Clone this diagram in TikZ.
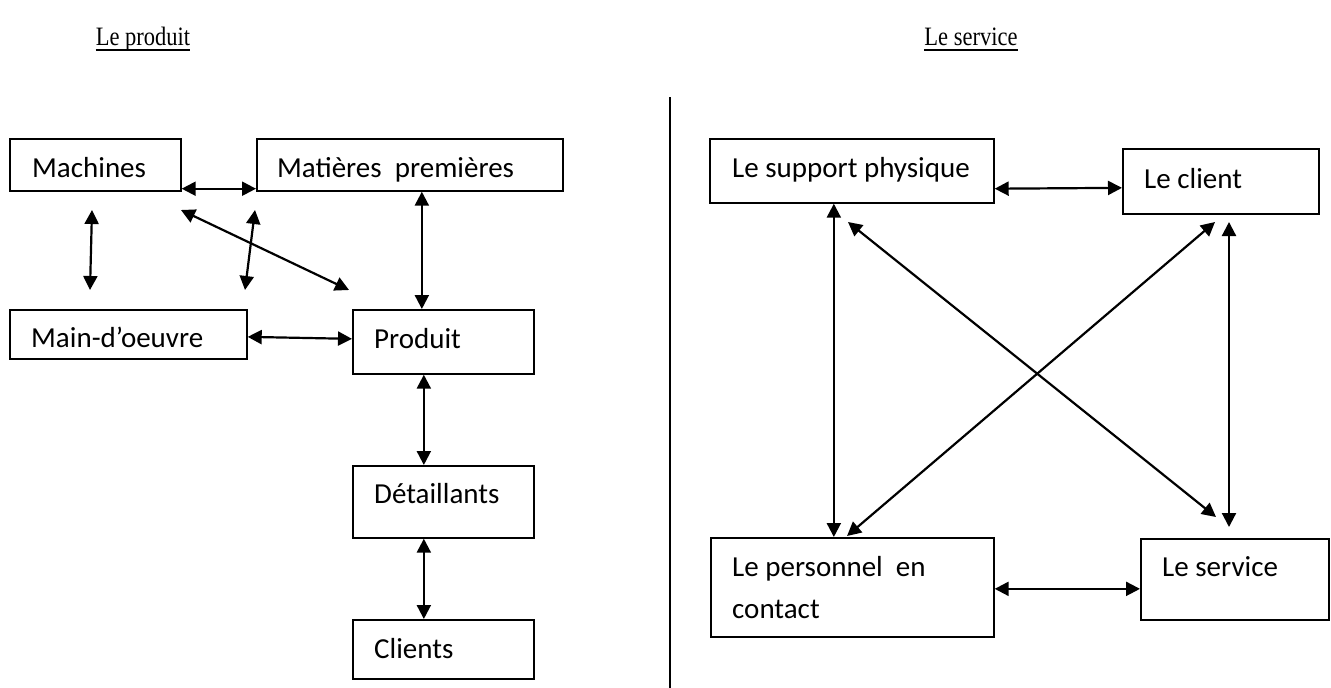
\documentclass[tikz,border=0pt]{standalone}
\usepackage{fontspec}
\setmainfont{Carlito}
\newfontfamily\titlefont{Liberation Serif}
\usetikzlibrary{arrows.meta}
\begin{document}
\begin{tikzpicture}[x=1pt,y=-1pt,
  box/.style={draw, line width=1.7pt, rectangle, inner sep=0pt, anchor=north west},
  lbl/.style={anchor=base west, inner sep=0pt, font=\fontsize{29}{35}\selectfont},
  link/.style={line width=2.2pt, {Triangle[length=14pt,width=14pt]}-{Triangle[length=14pt,width=14pt]}},
  ttl/.style={font=\titlefont\fontsize{22.5}{26}\selectfont, anchor=base, inner sep=0pt},
  uline/.style={line width=1.6pt},
  divider/.style={line width=1.2pt}]
\useasboundingbox (0,0) rectangle (1331,688);

% titles
\node[ttl] (t1) at (143,45) {\scalebox{1}[1.18]{Le produit}};
\node[ttl] (t2) at (971,45) {\scalebox{1}[1.18]{Le service}};
\draw[uline] ([yshift=-5pt]t1.base west) -- ([yshift=-5pt]t1.base east);
\draw[uline] ([yshift=-5pt]t2.base west) -- ([yshift=-5pt]t2.base east);

% divider
\coordinate (dv1) at (670,97);
\coordinate (dv2) at (670,688);
\draw[divider] (dv1) -- (dv2);

% left boxes
\node[box, minimum width=171pt, minimum height=52pt] (mach) at (9,138) {};
\node[box, minimum width=306pt, minimum height=52pt] (mat) at (256,138) {};
\node[box, minimum width=237pt, minimum height=49pt] (main) at (9,309) {};
\node[box, minimum width=181pt, minimum height=64pt] (prod) at (352,309) {};
\node[box, minimum width=181pt, minimum height=72pt] (det) at (352,465) {};
\node[box, minimum width=181pt, minimum height=59pt] (cli) at (352,619) {};

\node[lbl] (macht) at (32,177) {Machines};
\node[lbl] (matt) at (277,177) {Matières\ \ premières};
\node[lbl] (maint) at (31,347) {Main-d’oeuvre};
\node[lbl] (prodt) at (374,348) {Produit};
\node[lbl] (dett) at (374,503) {Détaillants};
\node[lbl] (clit) at (374,658) {Clients};

% right boxes
\node[box, minimum width=284pt, minimum height=64pt] (sup) at (709,138) {};
\node[box, minimum width=196pt, minimum height=65pt] (lcl) at (1122,148) {};
\node[box, minimum width=283pt, minimum height=99pt] (pers) at (710,537) {};
\node[box, minimum width=188pt, minimum height=81pt] (serv) at (1140,538) {};

\node[lbl] (supt) at (732,177) {Le support physique};
\node[lbl] (lclt) at (1144,188) {Le client};
\node[lbl] (perst) at (732,576) {Le personnel\ \ en};
\node[lbl] (perst2) at (732,618) {contact};
\node[lbl] (servt) at (1162,576) {Le service};

% left connectors
\draw[link] ([yshift=3pt]mach.south east) -- ([yshift=3pt]mat.south west);
\coordinate (c1a) at (92,210); \coordinate (c1b) at (90,290);
\coordinate (c2a) at (181,210); \coordinate (c2b) at (349,290);
\coordinate (c3a) at (255,210); \coordinate (c3b) at (245,290);
\draw[link] (c1a) -- (c1b);
\draw[link] (c2a) -- (c2b);
\draw[link] (c3a) -- (c3b);
\draw[link] ([xshift=-21.5pt]prod.north |- mat.south) -- ([xshift=-21.5pt]prod.north);
\draw[link] ([yshift=-2.5pt]main.east) -- ([yshift=3pt]prod.west);
\draw[link] ([xshift=-19.5pt]prod.south) -- ([xshift=-19.5pt]det.north);
\draw[link] ([xshift=-19.5pt]det.south) -- ([xshift=-19.5pt]cli.north);

% right connectors
\draw[link] ([yshift=15pt]sup.south east) -- ([yshift=-6.5pt]lcl.west);
\draw[link] ([xshift=-18pt]sup.south) -- ([xshift=-18pt]sup.south |- pers.north);
\coordinate (d1a) at (848,222); \coordinate (d1b) at (1216,517);
\coordinate (d2a) at (1215,222); \coordinate (d2b) at (847,536);
\coordinate (v2a) at (1229,222); \coordinate (v2b) at (1229,527);
\draw[link] (d1a) -- (d1b);
\draw[link] (d2a) -- (d2b);
\draw[link] (v2a) -- (v2b);
\draw[link] ([yshift=-1.5pt]pers.east) -- ([yshift=-9.5pt]serv.west);
\end{tikzpicture}
\end{document}
